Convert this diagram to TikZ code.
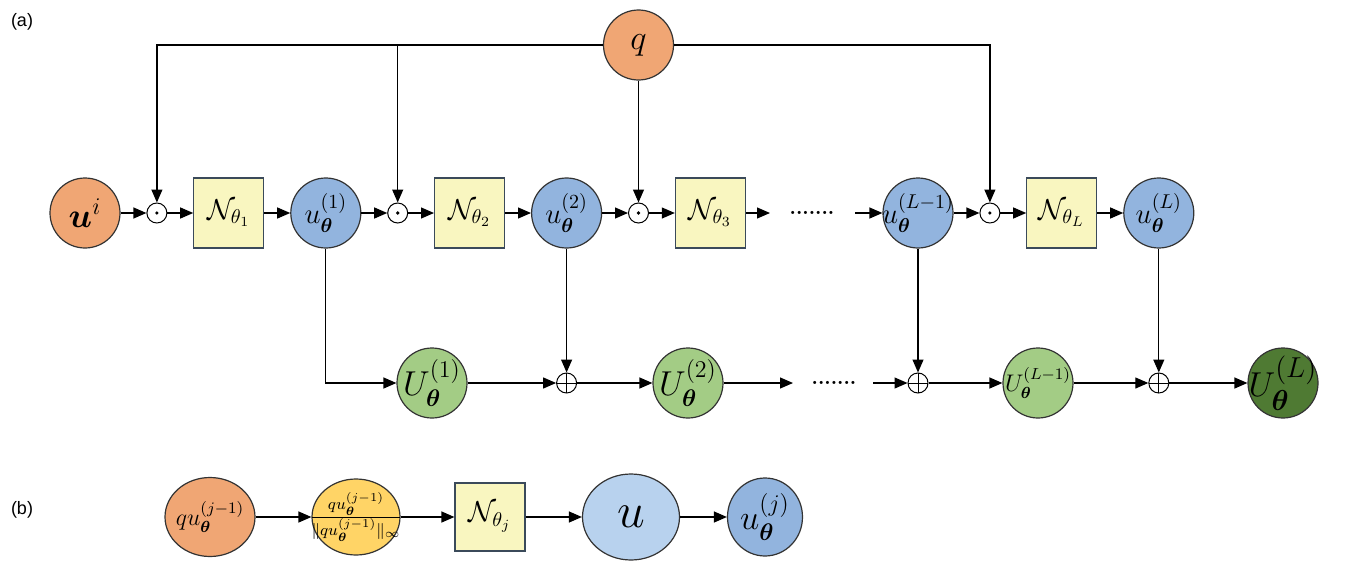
\documentclass[tikz,border=0pt]{standalone}
\usepackage{tikz}
\usetikzlibrary{calc}
\usetikzlibrary{arrows.meta}
\usetikzlibrary{positioning}
\usetikzlibrary{shapes.geometric}
\usepackage{amsmath}
\usepackage{bm}
\usepackage{fontspec}
\newfontfamily\mylabelfont{Liberation Sans}
\definecolor{myorange}{HTML}{F0A674}
\definecolor{myblue}{HTML}{92B4DE}
\definecolor{mylightblue}{HTML}{B8D2EE}
\definecolor{mygreen}{HTML}{A3CC85}
\definecolor{mydarkgreen}{HTML}{4F7A33}
\definecolor{myyellow}{HTML}{F9F6C0}
\definecolor{mygold}{HTML}{FFD466}
\definecolor{myslate}{HTML}{3B4A5A}
\pgfkeys{tikz/mycircle/.style={circle,draw=black!80,line width=0.6pt,minimum size=35pt,inner sep=0pt}}
\pgfkeys{tikz/myellipse/.style={ellipse,draw=black!80,line width=0.6pt,inner sep=0pt}}
\pgfkeys{tikz/myblock/.style={rectangle,draw=myslate,fill=myyellow,line width=0.6pt,minimum size=35pt,inner sep=0pt}}
\pgfkeys{tikz/myodot/.style={circle,draw,line width=0.5pt,minimum size=10pt,inner sep=0pt,path picture={\fill (path picture bounding box.center) circle (0.9pt);}}}
\pgfkeys{tikz/myoplus/.style={circle,draw,line width=0.5pt,minimum size=10pt,inner sep=0pt,path picture={\draw (path picture bounding box.north) -- (path picture bounding box.south) (path picture bounding box.west) -- (path picture bounding box.east);}}}
\pgfkeys{tikz/myflow/.style={->,line width=0.6pt}}
\pgfkeys{tikz/mylabel/.style={font=\mylabelfont\small,inner sep=0pt}}
\newcommand\mydots{\bfseries .......}
\newcommand\myfit[1]{\makebox[0pt]{#1}}

\begin{document}
\begin{tikzpicture}[x=0.5pt,y=-0.5pt,node distance=12.9pt,>={Triangle[length=6.5pt,width=5.5pt]}]
    \useasboundingbox (0,0) rectangle (1350,573);
    \node[mylabel] (labela) at (22,22) {(a)};
    \node[mycircle,fill=myorange] (ui) at (85,213) {\LARGE$\bm{u}^{i}$};
    \node[myodot,right=of ui] (odot1) {};
    \node[myblock,right=of odot1] (n1) {\Large$\mathcal{N}_{\theta_1}$};
    \node[mycircle,fill=myblue,right=of n1] (u1) {\Large$u_{\bm\theta}^{(1)}$};
    \node[myodot,right=of u1] (odot2) {};
    \node[myblock,right=of odot2] (n2) {\Large$\mathcal{N}_{\theta_2}$};
    \node[mycircle,fill=myblue,right=of n2] (u2) {\Large$u_{\bm\theta}^{(2)}$};
    \node[myodot,right=of u2] (odot3) {};
    \node[myblock,right=of odot3] (n3) {\Large$\mathcal{N}_{\theta_3}$};
    \node[mycircle,fill=myblue] (uLm) at (918,213) {\myfit{\Large$u_{\bm\theta}^{(L-1)}$}};
    \node[myodot,right=of uLm] (odot4) {};
    \node[myblock,right=of odot4] (nL) {\Large$\mathcal{N}_{\theta_L}$};
    \node[mycircle,fill=myblue,right=of nL] (uL) {\Large$u_{\bm\theta}^{(L)}$};
    \node[mycircle,fill=myorange] (q) at (odot3 |- 0,45) {\LARGE$q$};
    \node (dotsa) at (812,213) {\mydots};
    \coordinate (enda) at (770,213);
    \coordinate (starta) at (855,213);

    \draw[myflow] (q.west) -| (odot1);
    \draw[myflow] (odot2 |- q.west) -- (odot2);
    \draw[myflow] (q) -- (odot3);
    \draw[myflow] (q.east) -| (odot4);
    \foreach \a/\b in {ui/odot1,odot1/n1,n1/u1,u1/odot2,odot2/n2,n2/u2,u2/odot3,odot3/n3,n3/enda,starta/uLm,uLm/odot4,odot4/nL,nL/uL}
        \draw[myflow] (\a) -- (\b);

    \node[mycircle,fill=mygreen] (U1) at (432,383) {\myfit{\LARGE$U_{\bm\theta}^{(1)}$}};
    \node[myoplus] (oplus1) at (u2 |- U1) {};
    \node[mycircle,fill=mygreen] (U2) at (688,383) {\myfit{\LARGE$U_{\bm\theta}^{(2)}$}};
    \node (dotsb) at (834,383) {\mydots};
    \coordinate (endb) at (793,383);
    \coordinate (startb) at (873,383);
    \node[myoplus] (oplus2) at (uLm |- U1) {};
    \node[mycircle,fill=mygreen] (ULm) at (1038,383) {\myfit{\large$U_{\bm\theta}^{(L-1)}$}};
    \node[myoplus] (oplus3) at (uL |- U1) {};
    \node[mycircle,fill=mydarkgreen] (UL) at (1283,383) {\myfit{\fontsize{19}{21}\selectfont$U_{\bm\theta}^{(L)}$}};

    \draw[myflow] (u1) |- (U1);
    \foreach \a/\b in {u2/oplus1,uLm/oplus2,uL/oplus3,U1/oplus1,oplus1/U2,U2/endb,startb/oplus2,oplus2/ULm,ULm/oplus3,oplus3/UL}
        \draw[myflow] (\a) -- (\b);

    \node[mylabel] (labelb) at (22,510) {(b)};
    \node[myellipse,fill=myorange,minimum width=45pt,minimum height=39.5pt] (quj) at (210,517) {\myfit{\large$qu_{\bm\theta}^{(j-1)}$}};
    \node[myellipse,fill=mygold,minimum width=44pt,minimum height=38pt] (norm) at (356,517) {\myfit{\large$\frac{qu_{\bm\theta}^{(j-1)}}{\|qu_{\bm\theta}^{(j-1)}\|_\infty}$}};
    \node[myblock,minimum height=34pt] (nj) at (490,517) {\Large$\mathcal{N}_{\theta_j}$};
    \node[myellipse,fill=mylightblue,minimum width=48.5pt,minimum height=43pt] (uu) at (631,517) {\fontsize{30}{32}\selectfont$u$};
    \node[myellipse,fill=myblue,minimum width=37.5pt,minimum height=39pt] (uj) at (765,517) {\myfit{\LARGE$u_{\bm\theta}^{(j)}$}};
    \foreach \a/\b in {quj/norm,norm/nj,nj/uu,uu/uj}
        \draw[myflow] (\a) -- (\b);
\end{tikzpicture}
\end{document}
